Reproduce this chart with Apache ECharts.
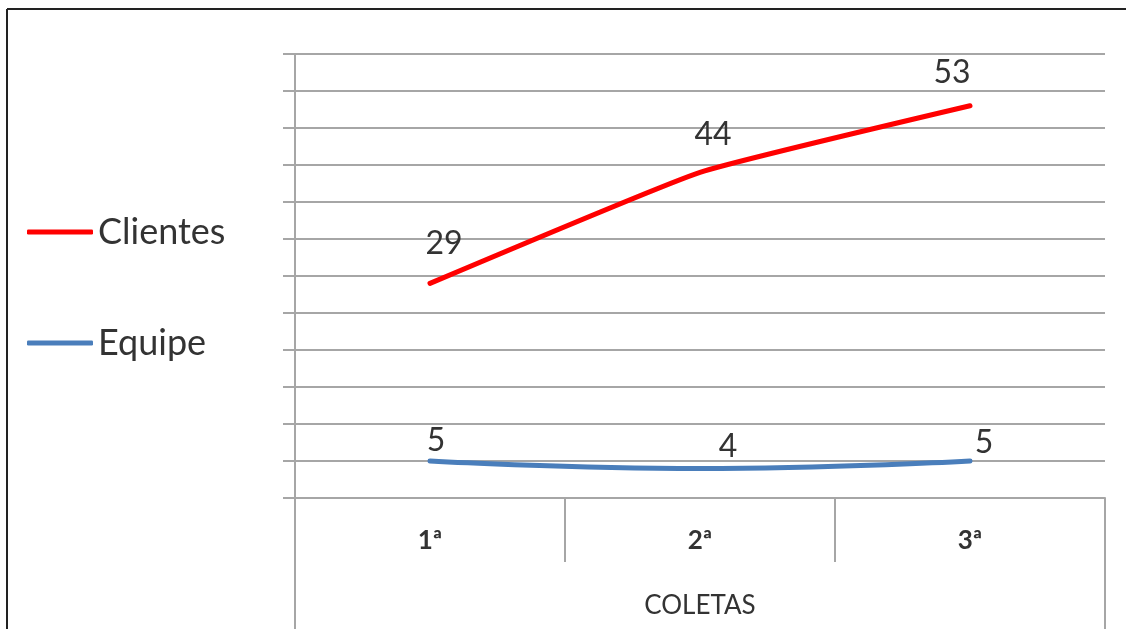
<!DOCTYPE html>
<html>
<head>
<meta charset="utf-8">
<script src="https://cdn.jsdelivr.net/npm/echarts@6/dist/echarts.min.js"></script>
<style>
  html, body { margin: 0; padding: 0; background: #fff; }
  #chart { width: 1126px; height: 629px; }
</style>
</head>
<body>
<div id="chart"></div>
<script>
// Coletas (collection rounds) and counts per group
const categories = ['1ª', '2ª', '3ª'];
const clientes = [29, 44, 53];
const equipe = [5, 4, 5];
const axisTitle = 'COLETAS';

// Per-point label nudges (pixels from the point) so numbers sit clear of the lines
const clientesLabelOffsets = [[14, -40], [13, -38], [-18, -33]];
const equipeLabelOffsets = [[6, -20], [28, -22], [14, -18]];

const FONT = 'Lato, "Open Sans", sans-serif';
const TEXT = '#333333';
const GRID_GRAY = '#a6a6a6';
const RED = '#ff0000';
const BLUE = '#4a7ebb';

function withOffsets(values, offsets) {
  return values.map((v, i) => ({ value: v, label: { offset: offsets[i] } }));
}

const valueLabel = {
  show: true,
  position: 'inside',
  fontFamily: FONT,
  fontSize: 32,
  color: TEXT
};

const chart = echarts.init(document.getElementById('chart'));

chart.setOption({
  animation: false,
  backgroundColor: '#ffffff',
  color: [RED, BLUE],
  textStyle: { fontFamily: FONT },
  legend: {
    orient: 'vertical',
    left: 27,
    top: 213,
    padding: 0,
    icon: 'roundRect',
    itemWidth: 66,
    itemHeight: 5,
    itemGap: 73,
    textStyle: { fontFamily: FONT, fontSize: 36, lineHeight: 38, color: TEXT },
    data: [
      { name: 'Clientes', itemStyle: { color: RED, opacity: 1 } },
      { name: 'Equipe', itemStyle: { color: BLUE, opacity: 1 } }
    ]
  },
  grid: { left: 295, right: 21, top: 54, bottom: 131, containLabel: false },
  xAxis: {
    type: 'category',
    data: categories,
    boundaryGap: true,
    name: axisTitle,
    nameLocation: 'middle',
    nameGap: 95,
    nameTextStyle: { fontFamily: FONT, fontSize: 26, color: TEXT },
    axisLine: { show: true, lineStyle: { color: GRID_GRAY, width: 2 } },
    axisTick: { show: true, alignWithLabel: false, length: 64, lineStyle: { color: GRID_GRAY, width: 2 } },
    axisLabel: { fontFamily: FONT, fontSize: 26, fontWeight: 'bold', color: TEXT, margin: 30 }
  },
  yAxis: {
    type: 'value',
    min: 0,
    max: 60,
    interval: 5,
    axisLine: { show: true, lineStyle: { color: GRID_GRAY, width: 2 } },
    axisTick: { show: true, length: 12, lineStyle: { color: GRID_GRAY, width: 2 } },
    axisLabel: { show: false },
    splitLine: { show: true, lineStyle: { color: GRID_GRAY, width: 2 } }
  },
  series: [
    {
      name: 'Clientes',
      type: 'line',
      data: withOffsets(clientes, clientesLabelOffsets),
      smooth: 0.12,
      symbol: 'circle',
      symbolSize: 1,
      showSymbol: true,
      itemStyle: { color: 'rgba(0,0,0,0)', borderWidth: 0 },
      lineStyle: { color: RED, width: 5, cap: 'round' },
      label: valueLabel
    },
    {
      name: 'Equipe',
      type: 'line',
      data: withOffsets(equipe, equipeLabelOffsets),
      smooth: true,
      symbol: 'circle',
      symbolSize: 1,
      showSymbol: true,
      itemStyle: { color: 'rgba(0,0,0,0)', borderWidth: 0 },
      lineStyle: { color: BLUE, width: 5, cap: 'round' },
      label: valueLabel
    }
  ]
});

// Outer axis edges run down past the category band, and a dark frame on top/left
const halfBand = (chart.convertToPixel({ xAxisIndex: 0 }, categories[1]) -
                  chart.convertToPixel({ xAxisIndex: 0 }, categories[0])) / 2;
const leftEdge = chart.convertToPixel({ xAxisIndex: 0 }, categories[0]) - halfBand;
const rightEdge = chart.convertToPixel({ xAxisIndex: 0 }, categories[categories.length - 1]) + halfBand;
const baseY = chart.convertToPixel({ yAxisIndex: 0 }, 0);
const H = chart.getHeight();
const W = chart.getWidth();

chart.setOption({
  graphic: [
    { type: 'line', shape: { x1: leftEdge, y1: baseY, x2: leftEdge, y2: H }, style: { stroke: GRID_GRAY, lineWidth: 2 } },
    { type: 'line', shape: { x1: rightEdge, y1: baseY, x2: rightEdge, y2: H }, style: { stroke: GRID_GRAY, lineWidth: 2 } },
    { type: 'line', shape: { x1: 7, y1: 9, x2: W, y2: 9 }, style: { stroke: '#222', lineWidth: 2 } },
    { type: 'line', shape: { x1: 7, y1: 9, x2: 7, y2: H }, style: { stroke: '#222', lineWidth: 2 } }
  ]
});
</script>
</body>
</html>
